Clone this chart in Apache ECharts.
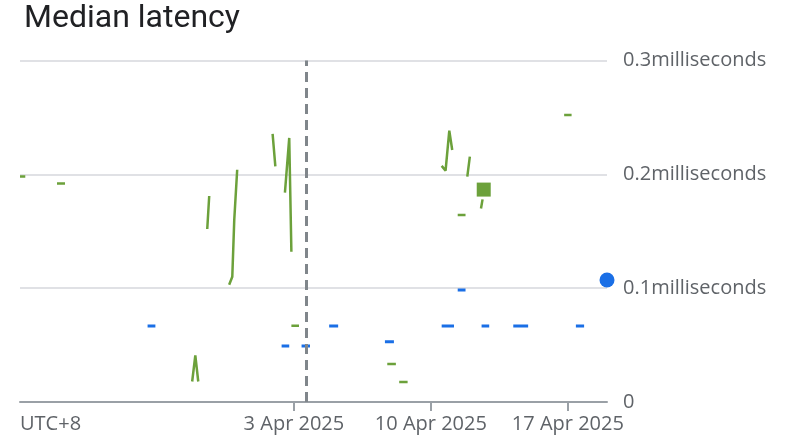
<!DOCTYPE html>
<html>
<head>
<meta charset="utf-8">
<script src="https://cdn.jsdelivr.net/npm/echarts@6/dist/echarts.min.js"></script>
<style>
  html, body { margin: 0; padding: 0; background: #fff; }
  #chart { width: 786px; height: 440px; }
</style>
</head>
<body>
<div id="chart"></div>
<script>
// x values are days since 20 Mar 2025 00:00 (UTC+8)
const xTickDays = [0, 14, 21, 28];
const xTickLabels = ['UTC+8', '3 Apr 2025', '10 Apr 2025', '17 Apr 2025'];
const yTickLabels = ['0', '0.1milliseconds', '0.2milliseconds', '0.3milliseconds'];
const markerDay = 14.61;

// green series, broken into pieces where data is missing
const greenSegments = [
  [[0.0, 0.198], [0.27, 0.198]],
  [[1.89, 0.192], [2.3, 0.192]],
  [[8.80, 0.018], [8.96, 0.041], [9.11, 0.018]],
  [[9.57, 0.152], [9.67, 0.181]],
  [[10.69, 0.103], [10.85, 0.110], [10.95, 0.160], [11.1, 0.204]],
  [[12.91, 0.2355], [13.05, 0.207]],
  [[13.54, 0.184], [13.76, 0.232], [13.87, 0.132]],
  [[13.87, 0.067], [14.26, 0.067]],
  [[18.77, 0.0334], [19.21, 0.0334]],
  [[19.38, 0.0176], [19.81, 0.0176]],
  [[21.55, 0.2074], [21.75, 0.2033], [21.94, 0.2384], [22.09, 0.2214]],
  [[22.37, 0.1643], [22.77, 0.1643]],
  [[22.86, 0.198], [22.99, 0.2155]],
  [[23.56, 0.170], [23.64, 0.178]],
  [[27.81, 0.2522], [28.19, 0.2522]]
];
const greenSingle = [[23.70, 0.1866]];

// blue series
const blueSegments = [
  [[6.52, 0.0668], [6.92, 0.0668]],
  [[13.37, 0.0492], [13.76, 0.0492]],
  [[14.39, 0.0492], [14.82, 0.0492]],
  [[15.80, 0.0668], [16.26, 0.0668]],
  [[18.65, 0.053], [19.11, 0.053]],
  [[21.55, 0.0668], [22.18, 0.0668]],
  [[22.37, 0.0984], [22.77, 0.0984]],
  [[23.59, 0.0668], [23.98, 0.0668]],
  [[25.21, 0.0668], [25.97, 0.0668]],
  [[28.41, 0.0668], [28.83, 0.0668]]
];
const blueLast = [[30.0, 0.1072]];

const GREEN = '#6ca13b';
const BLUE = '#1a6fe6';

// join segments with '-' so the line breaks between them
function withGaps(segs) {
  const out = [];
  segs.forEach(function (s, i) {
    if (i > 0) out.push([s[0][0], '-']);
    s.forEach(function (p) { out.push(p); });
  });
  return out;
}

const chart = echarts.init(document.getElementById('chart'), null, { renderer: 'canvas' });

chart.setOption({
  animation: false,
  title: {
    text: 'Median latency',
    left: 19,
    top: -2,
    textStyle: { fontFamily: 'Roboto', fontSize: 32, fontWeight: 'normal', color: '#202124' }
  },
  grid: { left: 20, right: 179, top: 60.5, bottom: 38, outerBoundsMode: 'none' },
  xAxis: {
    type: 'value',
    min: 0,
    max: 30,
    interval: 7,
    splitLine: { show: false },
    axisLine: { lineStyle: { color: '#9aa0a6', width: 2 } },
    axisTick: { customValues: xTickDays.slice(1), length: 9, lineStyle: { color: '#9aa0a6', width: 2 } },
    axisLabel: {
      customValues: xTickDays,
      alignMinLabel: 'left',
      margin: 12,
      fontFamily: 'Open Sans',
      fontSize: 20,
      color: '#5f6368',
      formatter: function (v) {
        const i = xTickDays.indexOf(Math.round(v));
        return i >= 0 ? xTickLabels[i] : '';
      }
    }
  },
  yAxis: {
    type: 'value',
    position: 'right',
    min: 0,
    max: 0.3,
    interval: 0.1,
    axisLine: { show: false },
    axisTick: { show: false },
    splitLine: { lineStyle: { color: '#e0e1e5', width: 2 } },
    axisLabel: {
      margin: 16,
      fontFamily: 'Open Sans',
      fontSize: 20,
      color: '#5f6368',
      formatter: function (v) { return yTickLabels[Math.round(v * 10)]; }
    }
  },
  series: [
    {
      name: 'green',
      type: 'line',
      symbol: 'none',
      connectNulls: false,
      lineStyle: { color: GREEN, width: 2.5 },
      data: withGaps(greenSegments),
      markLine: {
        silent: true,
        symbol: 'none',
        label: { show: false },
        lineStyle: { color: '#80868b', width: 3, type: [10, 6] },
        data: [{ xAxis: markerDay }]
      }
    },
    {
      name: 'green point',
      type: 'scatter',
      symbol: 'rect',
      symbolSize: 14,
      itemStyle: { color: GREEN, opacity: 1 },
      data: greenSingle
    },
    {
      name: 'blue',
      type: 'line',
      symbol: 'none',
      connectNulls: false,
      lineStyle: { color: BLUE, width: 3 },
      data: withGaps(blueSegments)
    },
    {
      name: 'blue point',
      type: 'scatter',
      symbol: 'circle',
      symbolSize: 15,
      clip: false,
      itemStyle: { color: BLUE, opacity: 1 },
      data: blueLast
    }
  ]
});
</script>
</body>
</html>
